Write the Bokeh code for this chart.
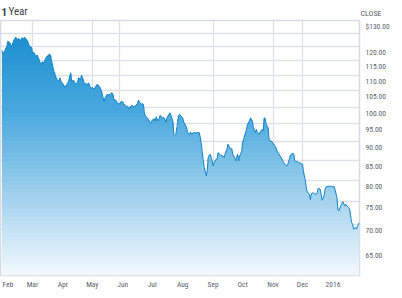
import numpy as np
import pandas as pd
from bokeh.plotting import figure
from bokeh.layouts import column
from bokeh.core.properties import value
from bokeh.models import FixedTicker, Range1d, NumeralTickFormatter, LogAxis, LogScale
from bokeh.embed import file_html
from bokeh.resources import INLINE

# ---------------- data ----------------
start_date = "2015-01-28"
day_offsets = [
    1, 2, 4, 6, 7, 9, 11, 12, 14, 15, 17, 18, 20, 21, 23, 24, 26, 27, 29, 31,
    32, 34, 35, 37, 38, 40, 41, 42, 44, 45, 47, 49, 50, 52, 53, 54, 56, 57, 59, 60,
    61, 63, 64, 65, 67, 68, 69, 70, 71, 72, 74, 75, 77, 78, 79, 81, 82, 83, 85, 87,
    88, 89, 91, 92, 93, 95, 96, 98, 100, 101, 102, 104, 105, 106, 108, 110, 111, 113, 114, 115,
    117, 119, 121, 122, 124, 125, 127, 130, 131, 132, 134, 135, 137, 139, 140, 141, 143, 144, 145, 146,
    147, 149, 150, 152, 153, 154, 156, 157, 158, 160, 161, 162, 164, 166, 167, 168, 169, 171, 172, 173,
    175, 176, 177, 178, 179, 181, 182, 184, 185, 186, 188, 189, 190, 192, 193, 194, 196, 198, 200, 202,
    203, 204, 205, 206, 207, 209, 210, 211, 212, 213, 215, 216, 217, 219, 220, 221, 223, 224, 226, 227,
    228, 230, 231, 232, 234, 235, 236, 238, 239, 241, 242, 243, 245, 246, 247, 249, 250, 251, 253, 254,
    256, 257, 259, 260, 261, 263, 264, 266, 267, 268, 269, 270, 272, 273, 274, 276, 277, 279, 280, 281,
    283, 284, 285, 287, 288, 289, 291, 292, 293, 295, 296, 298, 299, 300, 302, 303, 304, 306, 307, 308,
    310, 311, 312, 314, 315, 316, 318, 319, 321, 322, 323, 325, 326, 327, 329, 330, 331, 333, 336, 338,
    339, 340, 342, 343, 344, 346, 347, 348, 350, 351, 353, 354, 355, 357, 358, 359, 361, 362, 363, 365,
]
prices = [
    118.70, 117.49, 118.70, 120.25, 122.09, 121.46, 119.89, 121.46, 123.09, 123.58,
    122.72, 123.09, 122.35, 123.32, 123.09, 123.58, 122.72, 122.09, 120.25, 119.89,
    118.20, 117.84, 116.67, 117.03, 116.07, 114.33, 113.78, 114.68, 114.33, 115.51,
    116.67, 117.28, 117.28, 114.33, 112.61, 111.26, 109.49, 108.73, 108.17, 109.26,
    108.17, 107.29, 106.87, 106.00, 107.09, 107.62, 108.40, 109.82, 110.92, 108.17,
    108.40, 107.62, 107.29, 107.94, 109.26, 108.73, 110.15, 109.26, 107.29, 107.29,
    106.87, 107.62, 106.22, 105.80, 106.22, 105.48, 106.22, 107.09, 106.54, 106.00,
    105.16, 102.84, 101.81, 102.84, 103.90, 103.68, 103.90, 104.41, 103.90, 102.34,
    102.03, 100.98, 100.98, 101.60, 101.60, 100.98, 100.28, 99.98, 99.29, 100.28,
    100.49, 100.07, 100.28, 101.11, 102.12, 101.50, 100.80, 101.11, 100.80, 98.27,
    97.29, 96.79, 96.33, 95.34, 95.34, 96.12, 96.50, 95.83, 97.09, 95.83,
    96.50, 97.50, 96.79, 96.79, 96.33, 95.54, 96.79, 97.80, 98.27, 97.50,
    95.83, 92.06, 91.78, 92.06, 93.91, 97.50, 97.80, 97.09, 96.79, 95.54,
    94.59, 93.91, 92.50, 92.06, 92.70, 92.06, 92.50, 92.50, 92.50, 92.50,
    91.11, 89.31, 87.06, 84.91, 83.20, 81.14, 82.37, 85.76, 86.38, 86.65,
    84.91, 83.63, 84.47, 85.35, 85.35, 87.06, 86.65, 86.38, 86.20, 85.76,
    86.65, 87.97, 89.31, 88.85, 87.97, 88.13, 86.65, 85.76, 84.91, 86.65,
    84.91, 86.20, 87.25, 89.74, 90.67, 92.50, 93.46, 94.88, 95.83, 96.79,
    95.83, 93.91, 92.50, 93.46, 92.50, 92.06, 92.78, 93.46, 92.98, 96.79,
    96.62, 94.88, 93.91, 90.67, 90.20, 90.01, 89.58, 88.85, 88.39, 87.51,
    86.80, 86.20, 85.94, 84.91, 84.47, 84.07, 83.63, 84.07, 84.91, 86.46,
    86.80, 86.80, 85.09, 84.73, 84.73, 84.47, 84.47, 84.22, 84.07, 82.12,
    79.92, 78.01, 77.31, 76.77, 75.50, 76.91, 77.14, 76.91, 76.77, 77.14,
    78.18, 77.94, 76.77, 75.38, 76.37, 77.94, 78.48, 78.65, 78.65, 78.48,
    78.65, 77.94, 75.98, 73.36, 72.98, 74.09, 74.61, 75.06, 74.09, 74.47,
    73.87, 73.71, 73.36, 70.45, 70.10, 69.05, 69.39, 69.05, 69.74, 70.45,
]

y_tick_values = [65, 70, 75, 80, 85, 90, 95, 100, 105, 110, 115, 120, 130]
y_tick_labels = ["65.00", "70.00", "75.00", "80.00", "85.00", "90.00", "95.00",
                 "100.00", "105.00", "110.00", "115.00", "120.00", "$130.00"]
y_grid_values = [65, 70, 75, 80, 85, 90, 95, 100, 105, 110, 115, 120, 125]

month_tick_dates = ["2015-02-04", "2015-03-01", "2015-04-01", "2015-05-01", "2015-06-01",
                    "2015-07-01", "2015-08-01", "2015-09-01", "2015-10-01", "2015-11-01",
                    "2015-12-01", "2016-01-01"]
month_tick_labels = ["Feb", "Mar", "Apr", "May", "Jun", "Jul", "Aug", "Sep", "Oct",
                     "Nov", "Dec", "2016"]
x_grid_dates = ["2015-03-01", "2015-05-01", "2015-05-29", "2015-09-01",
                "2015-11-01", "2015-12-01"]

header_bold = "1"
header_left = "Year"
header_right = "CLOSE"

# ---------------- build ----------------
dates = pd.to_datetime(start_date) + pd.to_timedelta(day_offsets, unit="D")
price_arr = np.array(prices, dtype=float)


def ms(d):
    return pd.Timestamp(d).value / 1e6


FONT = "'Liberation Sans Narrow', 'Roboto Condensed', 'DejaVu Sans Condensed', sans-serif"
Y_LO, Y_HI = 60, 130
HEADER_H = 19
W = 402
FRAME_H = 255          # plot frame height in px
LABEL_DROP_PX = 6      # price labels sit a little below their grid lines

# ---- header strip (its own small figure, canvas-pixel coordinates) ----
h = figure(width=W, height=HEADER_H, x_range=Range1d(0, W), y_range=Range1d(HEADER_H, 0),
           output_backend="svg", toolbar_location=None,
           min_border=0, min_border_left=0, min_border_right=0,
           min_border_top=0, min_border_bottom=0)
h.axis.visible = False
h.grid.visible = False
h.outline_line_color = None
h.background_fill_color = "white"
h.border_fill_color = "white"
h.text(x=[1], y=[11], text=[header_bold], text_font=value(FONT), text_font_size="11px",
       text_font_style="bold", text_color="#3a3f45", text_baseline="middle")
h.text(x=[8], y=[11], text=[header_left], text_font=value(FONT), text_font_size="11px",
       text_color="#3a3f45", text_baseline="middle")
h.text(x=[381], y=[13], text=[header_right], text_font=value(FONT), text_font_size="8px",
       text_color="#5a6068", text_baseline="middle", text_align="right")

# ---- main chart ----
p = figure(width=W, height=298 - HEADER_H, x_axis_type="datetime", y_axis_type="log",
           x_range=Range1d(pd.Timestamp("2015-01-27 12:00"), pd.Timestamp("2016-01-28 01:00")),
           y_range=Range1d(Y_LO, Y_HI), y_axis_location=None,
           output_backend="svg", toolbar_location=None,
           min_border_left=0, min_border_right=43, min_border_top=1, min_border_bottom=23)
p.background_fill_color = "white"
p.border_fill_color = "white"
p.outline_line_color = "#d6dae1"
p.outline_line_width = 1.5

for fig in (h, p):
    if "frame_align" in fig.properties():
        fig.frame_align = False

# gradient-like area fill built from horizontal bands
stops_t = [0.0, 0.35, 0.7, 1.0]
stops_rgb = np.array([[0x14, 0x8b, 0xcd], [0x48, 0xa8, 0xdd],
                      [0xa5, 0xd3, 0xee], [0xf4, 0xfa, 0xfe]], dtype=float)
n_bands = 64
levels = np.geomspace(Y_LO, Y_HI, n_bands + 1)
for i in range(n_bands):
    lo, hi = levels[i], levels[i + 1]
    t = 1 - (i + 0.5) / n_bands
    rgb = [np.interp(t, stops_t, stops_rgb[:, k]) for k in range(3)]
    col = "#%02x%02x%02x" % tuple(int(round(c)) for c in rgb)
    y_low = lo * 0.997 if i > 0 else lo
    y1 = np.full(len(price_arr), y_low)
    y2 = np.clip(price_arr, y_low, hi)
    p.varea(x=dates, y1=y1, y2=y2, fill_color=col, fill_alpha=1.0)

p.line(x=dates, y=price_arr, line_color="#1383c7", line_width=1.0)

# grids
p.xgrid.ticker = FixedTicker(ticks=[ms(d) for d in x_grid_dates])
p.ygrid.ticker = FixedTicker(ticks=y_grid_values)
for g in (p.xgrid, p.ygrid):
    g.grid_line_color = "#dde1e7"
    g.grid_line_width = 1.3

# y axis (right): same log scale, shifted a few px down like the original labels
shift = np.exp(LABEL_DROP_PX / FRAME_H * np.log(Y_HI / Y_LO))
p.extra_y_ranges = {"labels": Range1d(Y_LO * shift, Y_HI * shift)}
p.extra_y_scales = {"labels": LogScale()}
yax = LogAxis(y_range_name="labels")
yax.ticker = FixedTicker(ticks=y_tick_values)
yax.formatter = NumeralTickFormatter(format="0.00")
yax.major_label_overrides = {v: lab for v, lab in zip(y_tick_values, y_tick_labels)}
yax.axis_line_color = None
yax.major_tick_line_color = None
yax.minor_tick_line_color = None
yax.major_tick_out = 0
yax.minor_tick_out = 0
yax.major_label_standoff = 6
yax.major_label_text_font = FONT
yax.major_label_text_font_size = "7.5px"
yax.major_label_text_color = "#5a6068"
p.add_layout(yax, "right")

# x axis
xax = p.xaxis[0]
xax.ticker = FixedTicker(ticks=[ms(d) for d in month_tick_dates])
xax.major_label_overrides = {ms(d): lab for d, lab in zip(month_tick_dates, month_tick_labels)}
xax.axis_line_color = None
xax.major_tick_line_color = None
xax.minor_tick_line_color = None
xax.major_tick_out = 0
xax.minor_tick_out = 0
xax.major_label_standoff = 4
xax.major_label_text_align = "left"
xax.major_label_text_font = FONT
xax.major_label_text_font_size = "7.5px"
xax.major_label_text_color = "#5a6068"

layout = column(h, p, spacing=0)
open("out.html", "w").write(file_html(layout, INLINE))
